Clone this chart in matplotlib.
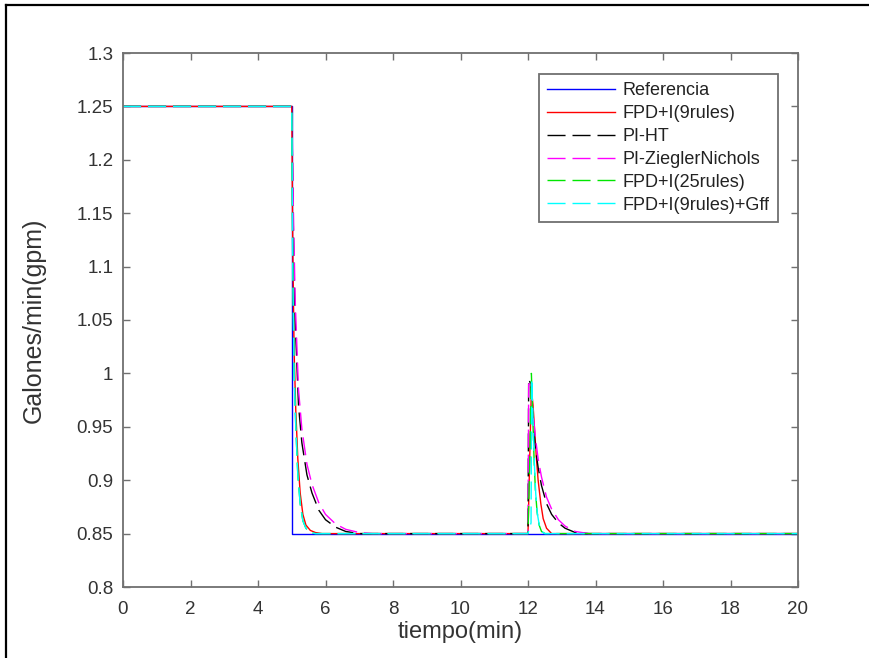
import matplotlib
matplotlib.use("Agg")
import matplotlib.pyplot as plt
from matplotlib.lines import Line2D

plt.rcParams['font.family'] = ['Liberation Sans', 'DejaVu Sans']

# Setpoint (reference) signal
t_ref = [0, 5, 5, 20]
y_ref = [1.25, 1.25, 0.85, 0.85]

# FPD+I (9 rules)
t_fpd9 = [0, 5, 5.03, 5.07, 5.12, 5.18, 5.25, 5.33, 5.42, 5.55, 5.7, 5.9,
          12.0, 12.05, 12.1, 12.15, 12.2, 12.25, 12.3, 12.38, 12.45, 12.55, 12.7, 20]
y_fpd9 = [1.25, 1.25, 1.12, 1.02, 0.965, 0.92, 0.888, 0.868, 0.858, 0.853, 0.851, 0.85,
          0.85, 0.92, 0.985, 0.97, 0.945, 0.92, 0.90, 0.878, 0.864, 0.855, 0.85, 0.85]

# PI tuned by HT
t_piht = [0, 5, 5.05, 5.1, 5.2, 5.3, 5.45, 5.6, 5.8, 6.0, 6.3, 6.6, 7.0, 7.4,
          12.0, 12.02, 12.08, 12.15, 12.22, 12.3, 12.4, 12.55, 12.7, 12.9, 13.1, 13.4, 13.8, 20]
y_piht = [1.25, 1.25, 1.13, 1.05, 0.97, 0.935, 0.905, 0.888, 0.872, 0.863, 0.856, 0.852, 0.85, 0.85,
          0.85, 0.995, 0.99, 0.955, 0.93, 0.912, 0.895, 0.878, 0.868, 0.86, 0.855, 0.851, 0.85, 0.85]

# PI tuned by Ziegler-Nichols
t_pizn = [0, 5, 5.05, 5.1, 5.2, 5.3, 5.45, 5.6, 5.8, 6.0, 6.3, 6.6, 7.0, 7.4,
          12.0, 12.02, 12.08, 12.15, 12.22, 12.3, 12.4, 12.55, 12.7, 12.9, 13.1, 13.4, 13.8, 20]
y_pizn = [1.25, 1.25, 1.15, 1.07, 0.985, 0.948, 0.915, 0.896, 0.879, 0.868, 0.859, 0.854, 0.851, 0.85,
          0.85, 0.99, 0.99, 0.962, 0.94, 0.92, 0.903, 0.884, 0.873, 0.863, 0.857, 0.852, 0.85, 0.85]

# FPD+I (25 rules)
t_fpd25 = [0, 5, 5.03, 5.07, 5.12, 5.18, 5.25, 5.33, 5.42, 5.55, 5.7,
           12.0, 12.06, 12.1, 12.14, 12.18, 12.22, 12.27, 12.33, 12.4, 12.5, 20]
y_fpd25 = [1.25, 1.25, 1.10, 1.00, 0.95, 0.905, 0.878, 0.862, 0.855, 0.851, 0.85,
           0.85, 0.93, 1.0, 0.96, 0.92, 0.89, 0.87, 0.858, 0.852, 0.85, 0.85]

# FPD+I (9 rules) with feed-forward Gff
t_fpdgff = [0, 5, 5.03, 5.07, 5.12, 5.18, 5.25, 5.33, 5.42, 5.55, 5.7,
            12.0, 12.09, 12.11, 12.15, 12.19, 12.23, 12.28, 12.34, 12.4, 12.5, 20]
y_fpdgff = [1.25, 1.25, 1.10, 1.00, 0.95, 0.905, 0.878, 0.862, 0.855, 0.851, 0.85,
            0.85, 0.86, 0.995, 0.955, 0.915, 0.887, 0.868, 0.857, 0.852, 0.85, 0.85]

labels = ['Referencia', 'FPD+I(9rules)', 'PI-HT', 'PI-ZieglerNichols',
          'FPD+I(25rules)', 'FPD+I(9rules)+Gff']

fig = plt.figure(figsize=(8.7, 6.58), dpi=100)
ax = fig.add_axes([123 / 870, 1 - 587 / 658, 675 / 870, 534 / 658])

dash = (13, 5)
lw = 1.0
ax.plot(t_ref, y_ref, color=(0, 0, 1), lw=lw, label=labels[0])
ax.plot(t_fpd9, y_fpd9, color=(1, 0, 0), lw=lw, label=labels[1])
ax.plot(t_piht, y_piht, color='k', lw=lw, dashes=dash, label=labels[2])
ax.plot(t_pizn, y_pizn, color=(1, 0, 1), lw=lw, dashes=dash, label=labels[3])
ax.plot(t_fpd25, y_fpd25, color=(0, 0.9, 0), lw=lw, dashes=dash, label=labels[4])
ax.plot(t_fpdgff, y_fpdgff, color=(0, 1, 1), lw=lw, dashes=dash, label=labels[5])

ax.set_xlim(0, 20)
ax.set_ylim(0.8, 1.3)
ax.set_xticks(range(0, 21, 2))
ax.set_yticks([0.8, 0.85, 0.9, 0.95, 1.0, 1.05, 1.1, 1.15, 1.2, 1.25, 1.3])
ax.set_yticklabels(['0.8', '0.85', '0.9', '0.95', '1', '1.05', '1.1', '1.15', '1.2', '1.25', '1.3'])

axc = '#707070'
for s in ax.spines.values():
    s.set_color(axc)
    s.set_linewidth(1.3)
ax.tick_params(direction='in', length=5, width=1.0, color=axc,
               top=True, right=True, labelsize=13.5, labelcolor='#333333')
ax.tick_params(axis='x', pad=10)
ax.tick_params(axis='y', pad=7)

ax.set_xlabel('tiempo(min)', fontsize=17, color='#333333', labelpad=2)
ax.set_ylabel('Galones/min(gpm)', fontsize=18, color='#333333', labelpad=22)

leg = ax.legend(loc='upper right', bbox_to_anchor=(0.970, 0.961), borderaxespad=0,
                fontsize=13, handlelength=3.8, handletextpad=0.4, labelspacing=0.33,
                borderpad=0.45, fancybox=False, framealpha=1)
leg.get_frame().set_edgecolor(axc)
leg.get_frame().set_linewidth(1.3)
for txt in leg.get_texts():
    txt.set_color('#222222')

# outer frame lines along the left and top edges
fig.add_artist(Line2D([6 / 870, 6 / 870], [0, 1 - 5 / 658], color='k', lw=1.6))
fig.add_artist(Line2D([6 / 870, 1], [1 - 5 / 658, 1 - 5 / 658], color='k', lw=1.6))

fig.savefig('out.png', dpi=100, facecolor='white')
